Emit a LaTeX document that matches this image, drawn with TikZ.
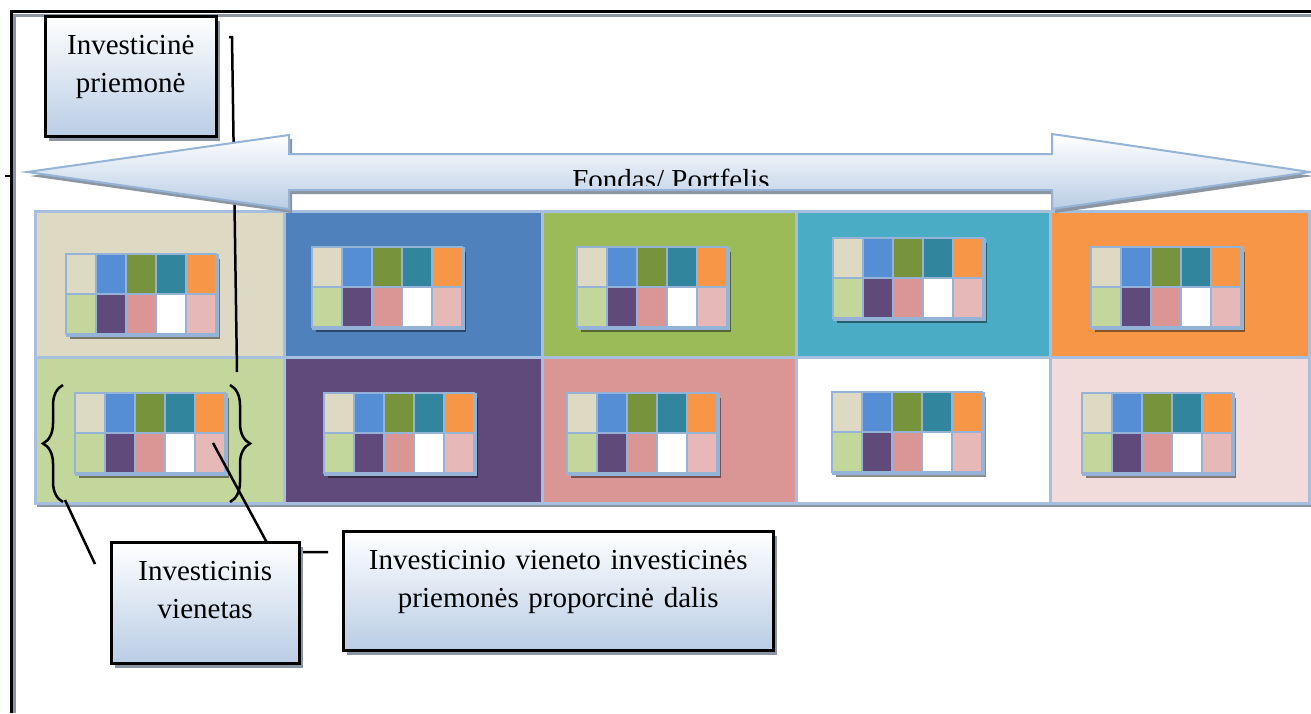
\documentclass[tikz,border=0pt]{standalone}
\usepackage{fontspec}
\setmainfont{Liberation Serif}
\usetikzlibrary{positioning, shadows, decorations.pathreplacing, calc}
\definecolor{fpTan}{HTML}{DDD9C3}
\definecolor{fpBlue}{HTML}{4F81BD}
\definecolor{fpGreen}{HTML}{9BBB59}
\definecolor{fpTeal}{HTML}{4BACC6}
\definecolor{fpOrange}{HTML}{F79646}
\definecolor{fpLime}{HTML}{C3D69B}
\definecolor{fpPurple}{HTML}{604A7B}
\definecolor{fpRose}{HTML}{D99694}
\definecolor{fpBlush}{HTML}{F2DCDB}
\definecolor{mBlue}{HTML}{558ED5}
\definecolor{mOlive}{HTML}{77933C}
\definecolor{mTeal}{HTML}{31859C}
\definecolor{mPink}{HTML}{E6B9B8}
\definecolor{fpLine}{HTML}{95B3D7}
\definecolor{fpFrame}{HTML}{A7BFDE}
\definecolor{fpShade}{HTML}{B9CDE5}
\definecolor{fpDots}{HTML}{8C96A3}

\newcommand{\minigrid}[3]{%
  \node[mini] (#1) at (#2,#3) {};
  \foreach \mc [count=\k from 0] in {fpTan,mBlue,mOlive,mTeal,fpOrange}
    \draw[minicell, fill=\mc] ($(#1.north west)+(30*\k,0)$) rectangle +(30,40);
  \foreach \mc [count=\k from 0] in {fpLime,fpPurple,fpRose,white,mPink}
    \draw[minicell, fill=\mc] ($(#1.north west)+(30*\k,40)$) rectangle +(30,40);
}

\begin{document}
\begin{tikzpicture}[
  x=1pt, y=-1pt,
  cell/.style={draw=fpFrame, line width=2.5pt, anchor=north west, minimum height=146pt, inner sep=0pt},
  mini/.style={draw=fpLine, fill=fpLine, line width=2.5pt, anchor=north west, minimum width=150pt, minimum height=80pt, inner sep=0pt,
    drop shadow={shadow xshift=3pt, shadow yshift=-4pt, fill=black, opacity=.45}},
  minicell/.style={draw=fpLine, line width=2.5pt},
  callout/.style={draw, line width=2.5pt, top color=white, bottom color=fpShade, anchor=north west, inner sep=0pt,
    align=center, text height=38pt, font=\fontsize{29}{38}\selectfont,
    drop shadow={shadow xshift=4pt, shadow yshift=-5pt, fill=fpDots, opacity=1}},
  leader/.style={line width=2.5pt},
  curly/.style={decorate, decoration={brace, amplitude=20pt}, line width=2.5pt},
]
  \useasboundingbox[fill=white] (0,0) rectangle (1311,713);

  % Page frame
  \draw[fpDots, line width=3pt] (14.5,713) -- (14.5,15.5) -- (1311,15.5);
  \draw[line width=2.5pt] (11.5,713) -- (11.5,11.5) -- (1311,11.5);
  \draw[line width=1.5pt] (5,176) -- (11.5,176);

  % Fund cells
  \fill[fpDots] (37,215) rectangle (1311,507);
  \foreach \x/\w/\ct/\cb [count=\i] in {34/249/fpTan/fpLime, 283/258/fpBlue/fpPurple, 541/254/fpGreen/fpRose, 795/254/fpTeal/white, 1049/259/fpOrange/fpBlush}{
    \node[cell, fill=\ct, minimum width=\w pt] (top-\i) at (\x,210) {};
    \node[cell, fill=\cb, minimum width=\w pt] (bot-\i) at (\x,356) {};
  }

  % Instruments in every unit
  \minigrid{mini-1-1}{66}{254}
  \minigrid{mini-1-2}{312}{247}
  \minigrid{mini-1-3}{577}{247}
  \minigrid{mini-1-4}{833}{238}
  \minigrid{mini-1-5}{1091}{247}
  \minigrid{mini-2-1}{75}{393}
  \minigrid{mini-2-2}{324}{393}
  \minigrid{mini-2-3}{567}{393}
  \minigrid{mini-2-4}{832}{392}
  \minigrid{mini-2-5}{1082}{393}

  % Braces round one unit
  \coordinate (bl1) at (63,502);
  \coordinate (bl2) at (63,385);
  \coordinate (br1) at (230,385);
  \coordinate (br2) at (230,502);
  \draw[curly] (bl1) -- (bl2);
  \draw[curly] (br1) -- (br2);

  % Leader lines
  \coordinate (priemoneLead) at (232,37);
  \coordinate (braceTop) at (237,372);
  \coordinate (vienetasLead) at (95,564);
  \coordinate (shareTip) at (213,443);
  \coordinate (shareBend) at (272,552);
  \coordinate (dalisLead) at (328,552);
  \draw[leader] ([xshift=-3pt]priemoneLead) -- (priemoneLead) -- (braceTop);
  \draw[leader] ([shift={(2,-2)}]bl1) -- (vienetasLead);
  \draw[leader] (shareTip) -- (shareBend) -- (dalisLead);

  % Fund arrow
  \draw[draw=fpLine, line width=2pt, top color=white, bottom color=fpShade,
    preaction={fill=fpDots, transform canvas={shift={(3pt,-4pt)}}}]
    (27,172) -- (289,135) -- (289,154) -- (1052,154) -- (1052,134) -- (1310,172)
    -- (1052,209) -- (1052,190) -- (289,190) -- (289,209) -- cycle;
  \begin{scope}
    \clip (289,150) rectangle (1052,185);
    \node[anchor=base, font=\fontsize{29}{38}\selectfont, inner sep=0pt] (fondas) at (671,189) {Fondas/ Portfelis};
  \end{scope}

  % Callouts
  \node[callout, text width=171pt, text depth=82pt] (priemone) at (44,15) {Investicinė\\priemonė};
  \node[callout, text width=188pt, text depth=83pt] (vienetas) at (110,541) {Investicinis\\vienetas};
  \node[callout, text width=430pt, text depth=81pt] (dalis) at (342,530) {Investicinio vieneto investicinės\\priemonės proporcinė dalis};
\end{tikzpicture}
\end{document}
